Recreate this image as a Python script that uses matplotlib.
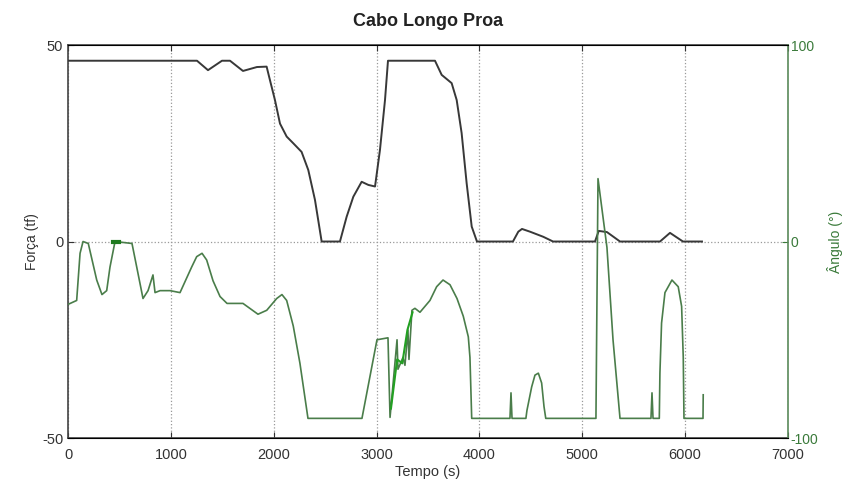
import numpy as np
import matplotlib
matplotlib.use("Agg")
import matplotlib.pyplot as plt

plt.rcParams['font.family'] = ['Liberation Sans', 'DejaVu Sans']
plt.rcParams['axes.unicode_minus'] = False

# Forca (tf) - left axis
t_force = [0, 1254, 1361, 1497, 1575, 1701, 1837, 1931, 1964, 2012, 2061, 2126, 2190,
           2271, 2336, 2401, 2466, 2644, 2709, 2774, 2855, 2920, 2985, 3033, 3082, 3111,
           3568, 3633, 3730, 3779, 3827, 3876, 3925, 3976,
           4326, 4378, 4414, 4492, 4621, 4716, 5124, 5160, 5240, 5367,
           5756, 5853, 5979, 6164]
forca = [46, 46, 43.6, 46, 46, 43.4, 44.4, 44.5, 41, 36, 30, 26.7, 25,
         22.8, 18.2, 10.6, 0, 0, 6.3, 11.4, 15.2, 14.4, 14, 23.3, 36, 46,
         46, 42.4, 40.3, 36, 27.6, 14.8, 3.8, 0,
         0, 2.5, 3.2, 2.5, 1.2, 0, 0, 2.7, 2.4, 0,
         0, 2.2, 0, 0]

# Angulo (graus) - right axis
t_ang = [0, 84, 117, 146, 197, 279, 330, 376, 408, 457, 622, 668, 729, 778, 826, 846,
         895, 992, 1089, 1202, 1251, 1303, 1348, 1410, 1478, 1546, 1701, 1847, 1932,
         2029, 2080, 2126, 2190, 2255, 2333, 2858, 3004, 3111,
         3131, 3199, 3208, 3257, 3276, 3305, 3315, 3344, 3373, 3422, 3519, 3584, 3646,
         3714, 3782, 3843, 3892, 3908, 3925, 4297, 4307, 4317, 4452, 4462, 4508,
         4540, 4573, 4605, 4628, 4645, 5133,
         5153, 5240, 5299, 5367, 5668, 5678, 5688, 5749, 5755, 5771, 5804, 5872,
         5933, 5966, 5982, 5989, 6174, 6176]
angulo = [-32, -30, -6, 0, -1, -19.6, -27, -25, -13, 0, -1, -13, -29, -25, -17, -26,
          -25, -25, -26, -13, -7.7, -6, -9.4, -20, -28, -31.5, -31.5, -37, -35,
          -29, -27, -30, -43, -62, -90, -90, -50, -49,
          -89.5, -50, -65, -59, -63, -45, -60, -35, -34, -36, -30, -23, -19.6,
          -22, -29, -38, -48.5, -59, -90, -90, -77, -90, -90, -86, -74,
          -68, -67, -72, -84, -90, -90,
          32, -3, -50, -90, -90, -77, -90, -90, -67, -41.5, -26, -19.6,
          -23, -33, -59, -90, -90, -78]

fig = plt.figure(figsize=(8.45, 4.84), dpi=100)
ax = fig.add_axes([0.0805, 0.095, 0.852, 0.812])
ax2 = ax.twinx()

ax.plot(t_force, forca, color='#383838', lw=1.4, zorder=3)
ax2.plot(t_ang, angulo, color='#4a7d4a', lw=1.2)
# dense stretches drawn heavier
ax2.plot([440, 500], [0, 0], color='#1e7a1e', lw=3)
ax2.plot([3140, 3200, 3250, 3300, 3350], [-85, -60, -62, -45, -36], color='#22a022', lw=1.5)

ax.set_xlim(0, 7000)
ax.set_ylim(-50, 50)
ax2.set_ylim(-100, 100)
ax.set_xticks(np.arange(0, 7001, 1000))
ax.set_yticks([-50, 0, 50])
ax2.set_yticks([-100, 0, 100])

ax.xaxis.grid(True, linestyle=':', color='#999999', lw=0.9)
ax.set_axisbelow(True)
ax.axhline(0, linestyle=':', color='#999999', lw=0.9, zorder=0)

ax.tick_params(direction='in', top=True, labelsize=10.5, colors='#333333', length=4)
ax.tick_params(axis='x', pad=7)
ax2.tick_params(direction='in', labelsize=10, colors='#3a7a3a', length=4, pad=2)
for s in ['left', 'top', 'bottom']:
    ax.spines[s].set_color('#444444')
    ax.spines[s].set_linewidth(1.2)
ax2.spines['right'].set_color('#5a8a5a')
ax2.spines['right'].set_linewidth(1.2)
ax2.spines['left'].set_visible(False)
ax.spines['right'].set_visible(False)

ax.set_title('Cabo Longo Proa', fontsize=13, fontweight='bold', color='#222222', pad=14)
ax.set_xlabel('Tempo (s)', fontsize=10.5, color='#333333', labelpad=2)
ax.set_ylabel('Força (tf)', fontsize=10, color='#333333', labelpad=2)
ax2.set_ylabel('Ângulo (°)', fontsize=10, color='#3a7a3a', labelpad=6)

fig.savefig('out.png', dpi=100)
